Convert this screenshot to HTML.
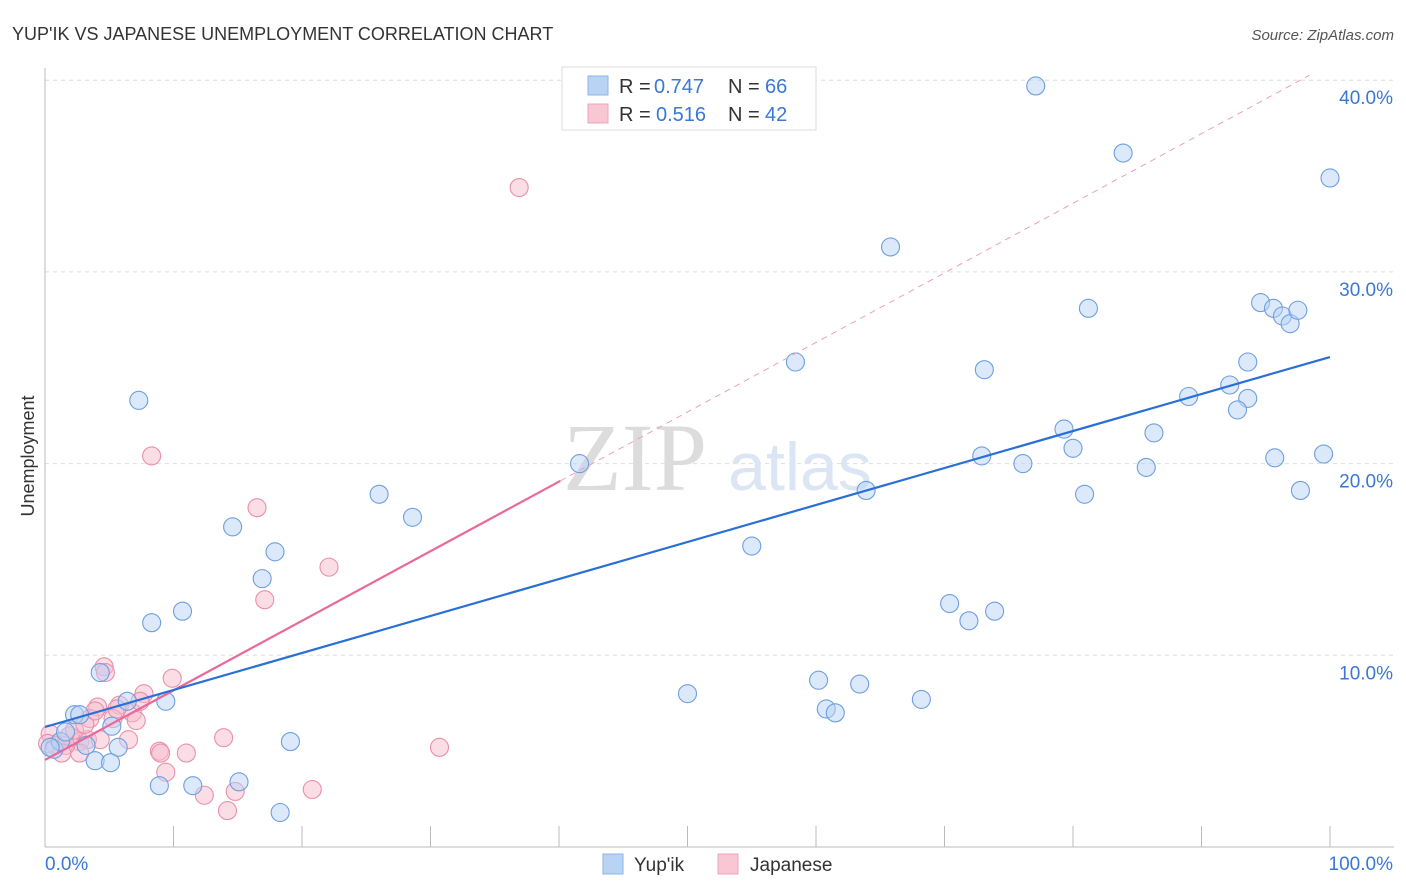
<!DOCTYPE html>
<html><head><meta charset="utf-8"><style>
body{margin:0;background:#fff;font-family:"Liberation Sans",sans-serif;}
svg{display:block}
</style></head><body>
<svg id="chart" width="1406" height="892">
<text x="12" y="40" font-size="18" fill="#333">YUP'IK VS JAPANESE UNEMPLOYMENT CORRELATION CHART</text>
<text x="1394" y="40" font-size="15" fill="#555" font-style="italic" text-anchor="end">Source: ZipAtlas.com</text>
<g id="grid"></g>
<text x="635" y="490" font-size="96" fill="#dcdcdc" font-family="Liberation Serif,serif" text-anchor="middle">ZIP</text>
<text x="800" y="490" font-size="68" fill="#dbe5f4" text-anchor="middle">atlas</text>
<g id="marks"></g>
<text x="34" y="456" font-size="18" fill="#333" transform="rotate(-90 34 456)" text-anchor="middle">Unemployment</text>
<g>
<rect x="562" y="67" width="254" height="63" fill="#fff" stroke="#ddd"/>
<rect x="588" y="76" width="20" height="19" fill="#b9d3f5" stroke="#8fb3e6"/>
<rect x="588" y="104" width="20" height="19" fill="#f9c6d4" stroke="#eea5ba"/>
<text x="619" y="93" font-size="20" fill="#333">R =</text>
<text x="654" y="93" font-size="20" fill="#3a78d4">0.747</text>
<text x="728" y="93" font-size="20" fill="#333">N =</text>
<text x="765" y="93" font-size="20" fill="#3a78d4">66</text>
<text x="619" y="121" font-size="20" fill="#333">R =</text>
<text x="656" y="121" font-size="20" fill="#3a78d4">0.516</text>
<text x="728" y="121" font-size="20" fill="#333">N =</text>
<text x="765" y="121" font-size="20" fill="#3a78d4">42</text>
</g>
<g>
<rect x="603" y="854" width="20" height="20" fill="#b9d3f5" stroke="#8fb3e6"/>
<text x="634" y="871" font-size="19" fill="#333">Yup'ik</text>
<rect x="718" y="854" width="20" height="20" fill="#f9c6d4" stroke="#eea5ba"/>
<text x="750" y="871" font-size="19" fill="#333">Japanese</text>
</g>
</svg>
<script>
const yTicks=[10,20,30,40];
const xTickLabels=["0.0%","100.0%"];
const blueX=[77.1,83.9,100,65.8,81.2,94.6,95.6,96.3,96.9,97.5,58.4,73.1,93.6,89,92.2,93.6,92.8,79.3,86.3,80,72.9,76.1,85.7,95.7,99.5,41.6,63.9,80.9,97.7,7.3,26,28.6,14.6,17.9,16.9,55.0,70.4,71.9,73.9,8.3,10.7,4.3,6.4,9.4,50.0,60.2,63.4,60.8,61.5,68.2,2.3,5.2,19.1,5.7,3.2,0.7,3.9,5.1,8.9,11.5,15.1,18.3,1.2,1.6,0.4,2.7];
const blueY=[39.7,36.2,34.9,31.3,28.1,28.4,28.1,27.7,27.3,28.0,25.3,24.9,25.3,23.5,24.1,23.4,22.8,21.8,21.6,20.8,20.4,20.0,19.8,20.3,20.5,20.0,18.6,18.4,18.6,23.3,18.4,17.2,16.7,15.4,14.0,15.7,12.7,11.8,12.3,11.7,12.3,9.1,7.6,7.6,8.0,8.7,8.5,7.2,7.0,7.7,6.9,6.3,5.5,5.2,5.3,5.1,4.5,4.4,3.2,3.2,3.4,1.8,5.5,6.0,5.2,6.9];
const pinkX=[36.9,8.3,16.5,22.1,17.1,4.6,4.7,9.9,7.7,4.1,5.8,6.8,3.5,7.1,5.3,0.4,1.2,1.9,2.7,3.3,0.8,6.5,13.9,8.9,9.0,11.0,2.7,30.7,14.8,9.4,12.4,14.2,20.8,1.6,0.2,2.3,1.3,5.6,4.3,7.4,3.1,3.9];
const pinkY=[34.4,20.4,17.7,14.6,12.9,9.4,9.1,8.8,8.0,7.3,7.4,7.0,6.7,6.6,6.7,5.9,5.5,5.8,5.5,5.6,5.3,5.6,5.7,5.0,4.9,4.9,4.9,5.2,2.9,3.9,2.7,1.9,3.0,5.3,5.4,6.1,4.9,7.2,5.6,7.6,6.4,7.1];
const blueFit=[6.26,25.56];
const pinkFit=[4.54,0.363];
const NS="http://www.w3.org/2000/svg";
const X=v=>45+v*12.85, Y=v=>847-v*19.17;
function mk(t,a,p){const e=document.createElementNS(NS,t);for(const k in a)e.setAttribute(k,a[k]);p.appendChild(e);return e;}
const grid=document.getElementById('grid'),marks=document.getElementById('marks');
yTicks.forEach(t=>{
 const l=mk('line',{x1:45,x2:1394,y1:Y(t),y2:Y(t),stroke:'#ddd','stroke-dasharray':'4,4'},grid);
 
 
 const tx=mk('text',{x:1393,y:Y(t)+24,'font-size':19,fill:'#3a78d4','text-anchor':'end'},grid);tx.textContent=t.toFixed(1)+'%';
 
 
});
const ax=mk('line',{x1:45,x2:45,y1:68,y2:847,stroke:'#bbb'},grid);


const bx=mk('line',{x1:45,x2:1394,y1:847,y2:847,stroke:'#bbb'},grid);


for(let i=1;i<=10;i++){const t=mk('line',{x1:X(i*10),x2:X(i*10),y1:826,y2:847,stroke:'#bbb'},grid);
 
 }
[[0,'start',45],[1,'end',1393]].forEach(([i,a,x])=>{const t=mk('text',{x:x,y:870,'font-size':19,fill:'#3a78d4','text-anchor':a},grid);t.textContent=xTickLabels[i];
 
 });
function pts(xs,ys,f,s,n){xs.forEach((x,i)=>{const c=mk('circle',{cx:X(x),cy:Y(ys[i]),r:9,fill:f,'fill-opacity':0.5,stroke:s,'stroke-width':1.1},marks);
 
 });}
pts(pinkX,pinkY,'#f7bccd','#ea8fab','japanese-point');
pts(blueX,blueY,'#b9d3f5','#6d9fe0','yupik-point');
const d=mk('line',{x1:X(40.1),y1:Y(pinkFit[0]+pinkFit[1]*40.1),x2:X(98.4),y2:Y(pinkFit[0]+pinkFit[1]*98.4),stroke:'#eaa0b8','stroke-dasharray':'6,5'},marks);


const p=mk('line',{x1:X(0),y1:Y(pinkFit[0]),x2:X(40.1),y2:Y(pinkFit[0]+pinkFit[1]*40.1),stroke:'#e8699a','stroke-width':2.2},marks);


const b=mk('line',{x1:X(0),y1:Y(blueFit[0]),x2:X(100),y2:Y(blueFit[1]),stroke:'#2a6fd6','stroke-width':2.2},marks);


</script>
</body></html>
